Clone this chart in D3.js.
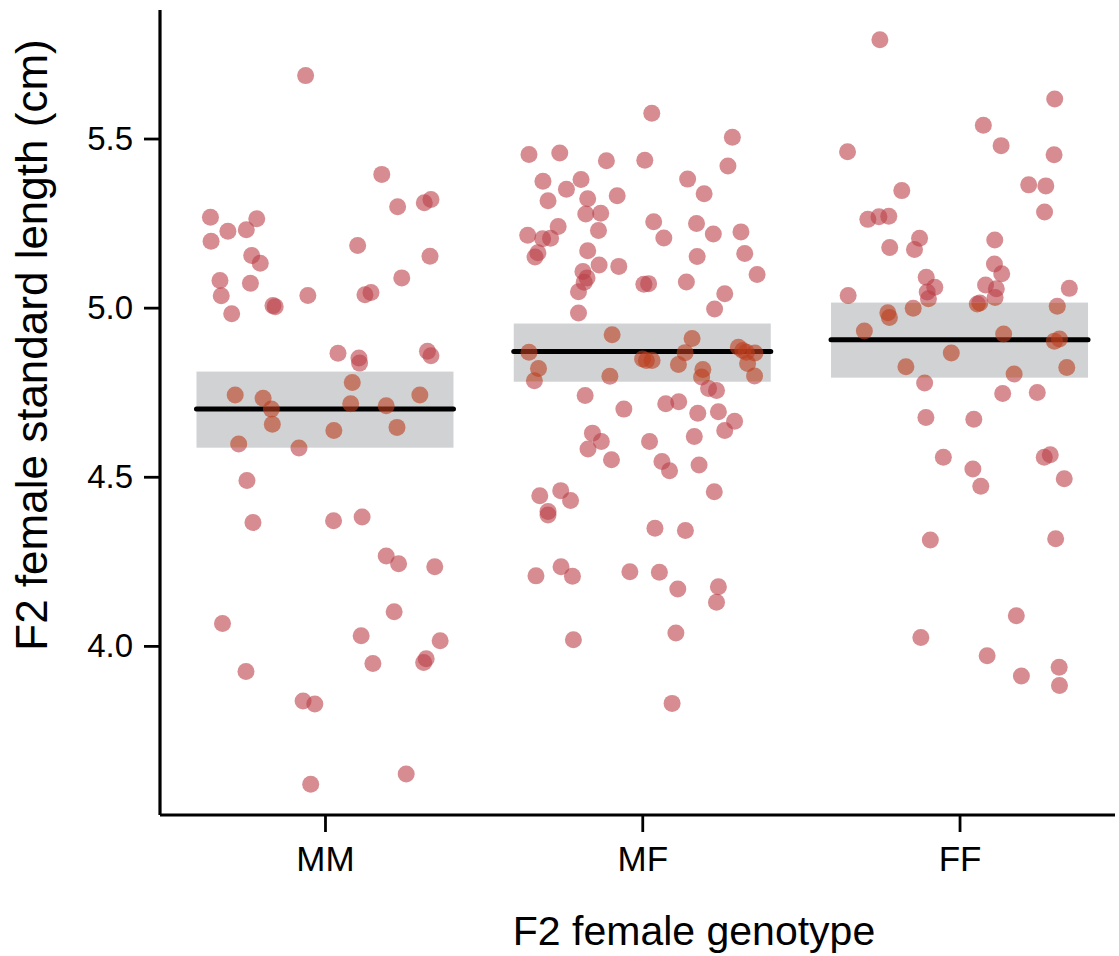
<!DOCTYPE html>
<html>
<head>
<meta charset="utf-8">
<script src="https://cdn.jsdelivr.net/npm/d3@7"></script>
<style>
  html, body { margin: 0; padding: 0; background: #fff; }
  svg { display: block; }
  text { font-family: "Liberation Sans", Arial, sans-serif; fill: #000; }
</style>
</head>
<body>
<script>
// ---------------- data ----------------
const categories = ["MM", "MF", "FF"];

const mmValues = [5.686,5.394,5.298,5.310,5.320,5.267,5.263,5.226,5.230,5.196,5.184,5.152,5.154,5.131,5.088,5.080,5.072,5.035,5.036,5.038,5.045,5.006,5.003,4.982,4.865,4.851,4.836,4.871,4.858,4.779,4.742,4.742,4.732,4.716,4.710,4.700,4.655,4.637,4.646,4.597,4.585,4.489,4.365,4.370,4.381,4.266,4.243,4.234,4.101,4.066,4.030,4.015,3.948,3.951,3.962,3.924,3.837,3.828,3.621,3.591];
const mmJitter = [-0.061,0.179,0.229,0.313,0.334,-0.361,-0.215,-0.306,-0.248,-0.359,0.103,0.331,-0.231,-0.204,0.242,-0.331,-0.235,-0.327,-0.054,0.126,0.145,-0.164,-0.157,-0.294,0.041,0.107,0.109,0.323,0.334,0.086,-0.283,0.299,-0.195,0.081,0.193,-0.169,-0.166,0.028,0.227,-0.272,-0.082,-0.246,-0.227,0.027,0.117,0.193,0.232,0.346,0.218,-0.323,0.114,0.363,0.151,0.311,0.319,-0.249,-0.069,-0.032,0.256,-0.045];

const mfValues = [5.575,5.504,5.453,5.457,5.434,5.436,5.419,5.374,5.379,5.380,5.350,5.337,5.322,5.331,5.316,5.277,5.279,5.254,5.240,5.249,5.224,5.214,5.218,5.204,5.205,5.228,5.206,5.162,5.150,5.168,5.160,5.151,5.126,5.122,5.107,5.088,5.075,5.098,5.069,5.071,5.076,5.047,5.041,4.996,4.984,4.920,4.909,4.868,4.867,4.883,4.873,4.868,4.866,4.848,4.844,4.844,4.820,4.832,4.817,4.835,4.797,4.795,4.798,4.784,4.761,4.755,4.740,4.700,4.716,4.722,4.688,4.692,4.664,4.637,4.629,4.604,4.582,4.604,4.619,4.550,4.545,4.518,4.535,4.456,4.444,4.459,4.430,4.397,4.387,4.348,4.341,4.207,4.234,4.206,4.219,4.218,4.168,4.175,4.129,4.018,4.038,3.830];
const mfJitter = [0.030,0.284,-0.357,-0.260,-0.113,0.008,0.270,-0.313,-0.193,0.143,-0.239,0.195,-0.172,-0.079,-0.297,-0.178,-0.131,0.036,-0.265,0.171,0.311,-0.361,0.224,-0.314,-0.289,-0.138,0.068,-0.329,-0.338,-0.172,0.323,0.173,-0.136,-0.074,-0.187,-0.174,-0.183,0.362,0.005,0.020,0.139,-0.201,0.260,0.228,-0.201,-0.095,0.157,-0.357,0.135,0.303,0.317,0.328,0.355,0.001,0.013,0.031,-0.327,0.114,0.191,0.332,-0.102,0.187,0.354,-0.340,0.209,0.234,-0.180,-0.058,0.074,0.115,0.175,0.240,0.291,0.260,-0.157,-0.129,-0.171,0.023,0.164,-0.097,0.062,0.086,0.179,0.227,-0.323,-0.257,-0.226,-0.297,-0.297,0.040,0.136,-0.335,-0.256,-0.220,-0.039,0.054,0.112,0.240,0.234,-0.217,0.106,0.094];

const ffValues = [5.792,5.617,5.539,5.479,5.461,5.452,5.346,5.363,5.360,5.261,5.269,5.270,5.283,5.205,5.178,5.172,5.200,5.090,5.129,5.100,5.060,5.046,5.026,5.067,5.056,5.030,5.057,5.036,5.011,5.014,4.985,4.971,4.998,5.004,4.931,4.922,4.901,4.907,4.866,4.825,4.804,4.823,4.777,4.746,4.749,4.675,4.670,4.558,4.523,4.472,4.558,4.565,4.494,4.313,4.317,4.089,4.025,3.971,3.911,3.937,3.883];
const ffJitter = [-0.251,0.300,0.075,0.131,-0.353,0.298,-0.182,0.218,0.272,-0.289,-0.254,-0.223,0.268,-0.126,-0.220,-0.142,0.111,-0.105,0.110,0.133,-0.078,-0.102,-0.098,0.082,0.116,0.112,0.346,-0.351,0.056,0.064,-0.226,-0.221,-0.146,0.308,-0.300,0.139,0.299,0.315,-0.026,-0.169,0.172,0.338,-0.110,0.136,0.245,-0.106,0.045,-0.051,0.042,0.067,0.267,0.286,0.330,-0.092,0.303,0.179,-0.122,0.087,0.195,0.314,0.315];

const groupMeans = [4.700, 4.870, 4.905];
const ciLower   = [4.586, 4.781, 4.793];
const ciUpper   = [4.811, 4.953, 5.015];

const yTickValues = [4.0, 4.5, 5.0, 5.5];
const xTitle = "F2 female genotype";
const yTitle = "F2 female standard length (cm)";

// ---------------- drawing ----------------
const W = 1119, H = 956;
const svg = d3.select("body").append("svg").attr("width", W).attr("height", H);

const x = d3.scaleLinear().domain([0.48, 3.49]).range([160, 1115]);
const y = d3.scaleLinear().domain([3.5, 5.88]).range([815, 10]);
const halfBox = 0.405;

const groups = [
  { values: mmValues, jitter: mmJitter },
  { values: mfValues, jitter: mfJitter },
  { values: ffValues, jitter: ffJitter }
];
const points = [];
groups.forEach((g, i) => g.values.forEach((v, k) => points.push({ cat: i + 1, v, j: g.jitter[k] })));

const summary = categories.map((c, i) => ({ cat: i + 1, mean: groupMeans[i], lo: ciLower[i], hi: ciUpper[i] }));

const defs = svg.append("defs");
const clip = defs.append("clipPath").attr("id", "inBox");
clip.selectAll("rect").data(summary).join("rect")
  .attr("x", d => x(d.cat - halfBox)).attr("width", d => x(d.cat + halfBox) - x(d.cat - halfBox))
  .attr("y", d => y(d.hi)).attr("height", d => y(d.lo) - y(d.hi));
const mask = defs.append("mask").attr("id", "outBox").attr("maskUnits", "userSpaceOnUse")
  .attr("x", 0).attr("y", 0).attr("width", W).attr("height", H);
mask.append("rect").attr("x", 0).attr("y", 0).attr("width", W).attr("height", H).attr("fill", "#fff");
mask.selectAll("rect.hole").data(summary).join("rect").attr("class", "hole")
  .attr("x", d => x(d.cat - halfBox)).attr("width", d => x(d.cat + halfBox) - x(d.cat - halfBox))
  .attr("y", d => y(d.hi)).attr("height", d => y(d.lo) - y(d.hi)).attr("fill", "#000");

// CI boxes
svg.append("g").selectAll("rect").data(summary).join("rect")
  .attr("x", d => x(d.cat - halfBox)).attr("width", d => x(d.cat + halfBox) - x(d.cat - halfBox))
  .attr("y", d => y(d.hi)).attr("height", d => y(d.lo) - y(d.hi))
  .attr("fill", "#d0d2d4");

// mean lines
svg.append("g").selectAll("line").data(summary).join("line")
  .attr("x1", d => x(d.cat - halfBox)).attr("x2", d => x(d.cat + halfBox))
  .attr("y1", d => y(d.mean)).attr("y2", d => y(d.mean))
  .attr("stroke", "#000").attr("stroke-width", 5).attr("stroke-linecap", "round");

// points
const R = 8.5;
svg.append("g").attr("mask", "url(#outBox)")
  .selectAll("circle").data(points).join("circle")
  .attr("cx", d => x(d.cat + d.j)).attr("cy", d => y(d.v)).attr("r", R)
  .attr("fill", "rgb(187,63,72)").attr("fill-opacity", 0.6);
svg.append("g").attr("clip-path", "url(#inBox)")
  .selectAll("circle").data(points).join("circle")
  .attr("cx", d => x(d.cat + d.j)).attr("cy", d => y(d.v)).attr("r", R)
  .attr("fill", "rgb(188,62,30)").attr("fill-opacity", 0.6);

// y axis
const yAxis = svg.append("g").attr("transform", "translate(160,0)")
  .call(d3.axisLeft(y).tickValues(yTickValues).tickFormat(d3.format(".1f")).tickSize(16).tickPadding(11));
yAxis.select(".domain").attr("d", `M0,${y(5.88)}V${y(3.5)}`).attr("stroke", "#000").attr("stroke-width", 3.2);
yAxis.selectAll(".tick line").attr("stroke", "#000").attr("stroke-width", 2.8);
yAxis.selectAll(".tick text").attr("font-size", 33).attr("font-family", "Liberation Sans, Arial, sans-serif").attr("fill", "#000");

// x axis
const xAxis = svg.append("g").attr("transform", "translate(0,815)")
  .call(d3.axisBottom(x).tickValues([1, 2, 3]).tickFormat(d => categories[d - 1]).tickSize(17).tickPadding(14));
xAxis.select(".domain").attr("d", `M${x(0.48)},0H${x(3.49)}`).attr("stroke", "#000").attr("stroke-width", 3.2);
xAxis.selectAll(".tick line").attr("stroke", "#000").attr("stroke-width", 2.8);
xAxis.selectAll(".tick text").attr("font-size", 35).attr("font-family", "Liberation Sans, Arial, sans-serif").attr("fill", "#000");

// titles
svg.append("text").attr("x", 694).attr("y", 945).attr("text-anchor", "middle")
  .attr("font-size", 41).text(xTitle);
svg.append("text").attr("transform", "translate(47,345) rotate(-90)").attr("text-anchor", "middle")
  .attr("font-size", 44).text(yTitle);
</script>
</body>
</html>
